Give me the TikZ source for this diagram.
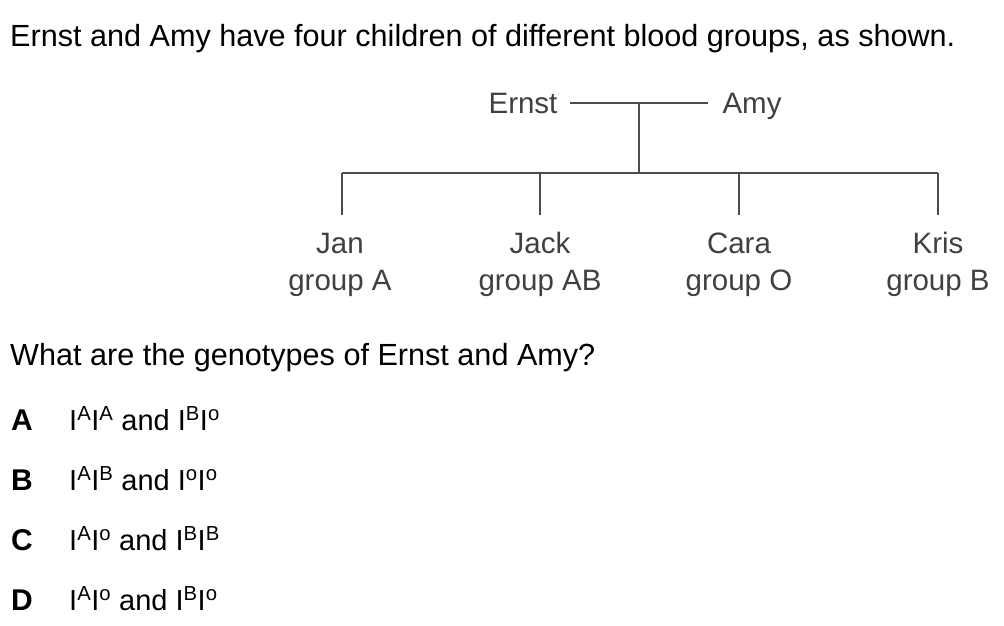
\documentclass[tikz,border=0pt]{standalone}
\usepackage{fontspec}
\setmainfont{Liberation Sans}
\begin{document}
\begin{tikzpicture}[x=1pt,y=-1pt,
  txt/.style={anchor=base west,inner sep=0pt,font=\fontsize{30.6}{36}\selectfont},
  ped/.style={inner sep=0pt,font=\fontsize{29.5}{36}\selectfont,text=black!75},
  pline/.style={draw=black!70,line width=1.6pt},
  opt/.style={anchor=base west,inner sep=0pt,font=\fontsize{30}{36}\selectfont\bfseries},
  gen/.style={anchor=base west,inner sep=0pt,font=\fontsize{29}{36}\selectfont}]
\useasboundingbox (0,0) rectangle (1004,626);
\fill[white] (0,0) rectangle (1004,626);
\node[txt] (title) at (10,47) {Ernst and Amy have four children of different blood groups, as shown.};
% parents
\node[ped,anchor=base] (ernst) at (523,113) {Ernst};
\node[ped,anchor=base] (amy) at (752,113) {Amy};
\coordinate (ml) at (570,103);
\coordinate (mr) at (708,103);
\coordinate (mid) at (639,103);
\coordinate (bar) at (639,173);
\coordinate (bl) at (342,173);
\coordinate (br) at (938,173);
\draw[pline] (ml) -- (mr);
\draw[pline] (mid) -- (bar);
\draw[pline] (bl) -- (br);
% children
\node[ped,anchor=base] (jan) at (340,253) {Jan};
\node[ped,anchor=base] (jack) at (540,253) {Jack};
\node[ped,anchor=base] (cara) at (739,253) {Cara};
\node[ped,anchor=base] (kris) at (938,253) {Kris};
\node[ped,anchor=base] (ga) at (340,290) {group A};
\node[ped,anchor=base] (gab) at (540,290) {group AB};
\node[ped,anchor=base] (go) at (739,290) {group O};
\node[ped,anchor=base] (gb) at (938,290) {group B};
\coordinate (c1) at (342,215);
\coordinate (c2) at (540,215);
\coordinate (c3) at (739,215);
\coordinate (c4) at (938,215);
\draw[pline] (bl) -- (c1);
\draw[pline] (c2 |- bl) -- (c2);
\draw[pline] (c3 |- bl) -- (c3);
\draw[pline] (br) -- (c4);
% question
\node[txt] (q) at (10,365) {What are the genotypes of Ernst and Amy?};
\node[opt] (oa) at (11,430) {A};
\node[opt] (ob) at (11,490) {B};
\node[opt] (oc) at (11,550) {C};
\node[opt] (od) at (11,610) {D};
\node[gen] (ga1) at (69,430) {I\textsuperscript{A}I\textsuperscript{A} and I\textsuperscript{B}I\textsuperscript{o}};
\node[gen] (gb1) at (69,490) {I\textsuperscript{A}I\textsuperscript{B} and I\textsuperscript{o}I\textsuperscript{o}};
\node[gen] (gc1) at (69,550) {I\textsuperscript{A}I\textsuperscript{o} and I\textsuperscript{B}I\textsuperscript{B}};
\node[gen] (gd1) at (69,610) {I\textsuperscript{A}I\textsuperscript{o} and I\textsuperscript{B}I\textsuperscript{o}};
\end{tikzpicture}
\end{document}
